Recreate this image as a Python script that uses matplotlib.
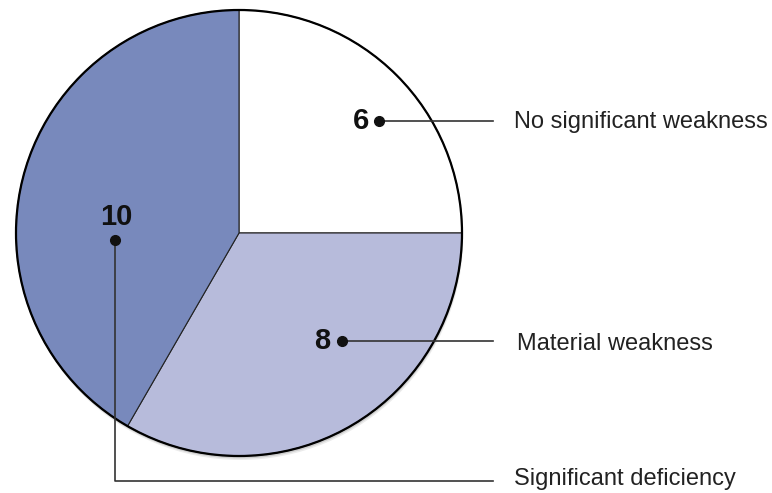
import matplotlib.pyplot as plt
from matplotlib.patches import Circle

plt.rcParams['font.family'] = ['Liberation Sans', 'DejaVu Sans']

categories = ['No significant weakness', 'Material weakness', 'Significant deficiency']
values = [6, 8, 10]
colors = ['#ffffff', '#b7bbdb', '#7889bc']

fig = plt.figure(figsize=(7.72, 4.93), dpi=100)
ax = fig.add_axes([0, 0, 1, 1])

cx, cy, r = 239, 233, 223

# light shadow under the pie
for off, a in [(4, 0.08), (2.5, 0.12)]:
    ax.add_patch(Circle((cx + off * 0.3, cy + off), r, color='black', alpha=a, lw=0, zorder=0))

# y axis is flipped, so counterclock=True draws clockwise on screen
ax.pie(values, colors=colors, startangle=-90, counterclock=True,
       center=(cx, cy), radius=r, frame=True,
       wedgeprops=dict(edgecolor='#222222', linewidth=0.8, zorder=1))
ax.set_xlim(0, 772)
ax.set_ylim(493, 0)
ax.set_aspect('equal')
ax.axis('off')
ax.add_patch(Circle((cx, cy), r, fill=False, ec='black', lw=1.6, zorder=3))

lc = '#333333'
# 6
ax.text(369, 121, '6', ha='right', va='center', fontsize=21, fontweight='bold', color='#111111', zorder=5)
ax.plot([379, 493], [121, 121], color=lc, lw=1.2, zorder=4)
ax.plot(379, 121, 'o', color='#111111', ms=7, zorder=5)
ax.text(514, 122, categories[0], ha='left', va='center', fontsize=17, color='#222222')

# 8
ax.text(330, 341, '8', ha='right', va='center', fontsize=21, fontweight='bold', color='#111111', zorder=5)
ax.plot([342, 493], [341, 341], color=lc, lw=1.2, zorder=4)
ax.plot(342, 341, 'o', color='#111111', ms=7, zorder=5)
ax.text(517, 344, categories[1], ha='left', va='center', fontsize=17, color='#222222')

# 10
ax.text(116, 217, '10', ha='center', va='center', fontsize=21, fontweight='bold', color='#111111', zorder=5)
ax.plot([115, 115, 493], [240, 481, 481], color=lc, lw=1.2, zorder=4)
ax.plot(115, 240, 'o', color='#111111', ms=7, zorder=5)
ax.text(514, 479, categories[2], ha='left', va='center', fontsize=17, color='#222222')

fig.savefig('out.png', dpi=100)
